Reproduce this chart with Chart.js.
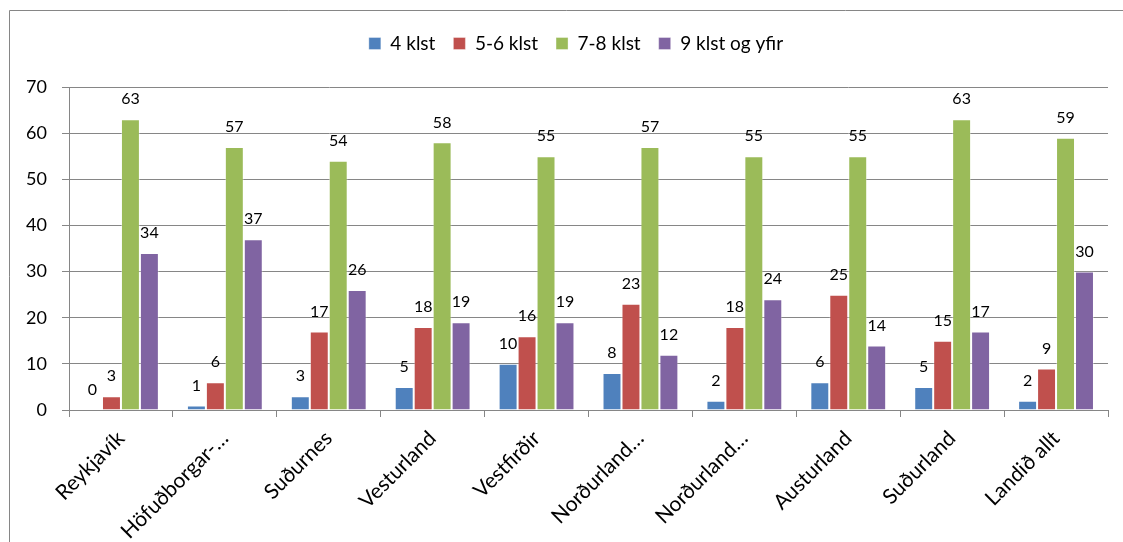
<!DOCTYPE html>
<html>
<head>
<meta charset="utf-8">
<script src="https://cdn.jsdelivr.net/npm/chart.js@4.4.1/dist/chart.umd.min.js"></script>
<style>
html,body{margin:0;padding:0;background:#fff;}
#wrap{position:absolute;left:0;top:0;width:1123px;height:542px;}
</style>
</head>
<body>
<div id="wrap"><canvas id="c" width="1123" height="542"></canvas></div>
<script>
const categories = ['Reykjavík','Höfuðborgar-…','Suðurnes','Vesturland','Vestfirðir','Norðurland…','Norðurland…','Austurland','Suðurland','Landið allt'];
const seriesNames = ['4 klst','5-6 klst','7-8 klst','9 klst og yfir'];
const s4 = [0,1,3,5,10,8,2,6,5,2];
const s56 = [3,6,17,18,16,23,18,25,15,9];
const s78 = [63,57,54,58,55,57,55,55,63,59];
const s9 = [34,37,26,19,19,12,24,14,17,30];
const yTicks = [0,10,20,30,40,50,60,70];
const colors = ['#4F81BD','#C0504D','#9BBB59','#8064A2'];

const FONT = 'Lato, "Noto Sans", sans-serif';

const framePlugin = {
  id:'frame',
  beforeDraw(chart){
    const ctx = chart.ctx;
    ctx.save();
    ctx.strokeStyle = '#868686';
    ctx.lineWidth = 1;
    ctx.beginPath();
    ctx.moveTo(9.5, 2000);
    ctx.lineTo(9.5, 10.5);
    ctx.lineTo(2000, 10.5);
    ctx.stroke();
    ctx.restore();
  }
};

const legendTweak = {
  id:'legendTweak',
  beforeLayout(chart){
    const lg = chart.legend;
    if (lg && !lg._patched){
      const f = lg.fit;
      lg.fit = function(){ f.apply(this, arguments); this.height += 24; };
      lg._patched = true;
    }
  },
  afterLayout(chart){
    const lg = chart.legend;
    if (lg){ lg.left += 22; lg.right += 22; }
  }
};

const valueLabels = {
  id:'valueLabels',
  afterDatasetsDraw(chart){
    const ctx = chart.ctx;
    ctx.save();
    ctx.font = '16px ' + FONT;
    ctx.fillStyle = '#000';
    ctx.textAlign = 'center';
    ctx.textBaseline = 'middle';
    chart.data.datasets.forEach((ds, i) => {
      const meta = chart.getDatasetMeta(i);
      meta.data.forEach((el, j) => {
        ctx.fillText(String(ds.data[j]), el.x, el.y - 20);
      });
    });
    ctx.restore();
  }
};

new Chart(document.getElementById('c'), {
  type:'bar',
  data:{
    labels: categories,
    datasets: [s4, s56, s78, s9].map((d, i) => ({
      label: seriesNames[i],
      data: d,
      backgroundColor: colors[i],
      borderColor: 'rgba(255,255,255,0.35)',
      borderWidth: 1,
      categoryPercentage: 0.73,
      barPercentage: 1.0
    }))
  },
  options:{
    responsive:false,
    animation:false,
    devicePixelRatio:1,
    layout:{padding:{left:0, right:15, top:16, bottom:0}},
    plugins:{
      legend:{
        position:'top',
        labels:{
          font:{family:FONT, size:19},
          color:'#000',
          boxWidth:12,
          boxHeight:12,
          padding:18
        }
      },
      tooltip:{enabled:false}
    },
    scales:{
      x:{
        grid:{display:true, drawOnChartArea:false, drawTicks:true, tickLength:7, color:'#868686', offset:true},
        border:{display:true, color:'#868686', width:1},
        ticks:{
          font:{family:FONT, size:21},
          color:'#000',
          minRotation:45, maxRotation:45,
          autoSkip:false,
          padding:9
        },
        afterFit(scale){ scale.height = 132; }
      },
      y:{
        min:0, max:70,
        afterBuildTicks(scale){ scale.ticks = yTicks.map(v => ({value:v})); },
        grid:{color:'#868686', tickLength:7, drawTicks:true},
        border:{display:true, color:'#868686', width:1},
        ticks:{
          font:{family:FONT, size:18},
          color:'#000',
          padding:15
        },
        afterFit(scale){ scale.width = 69; }
      }
    }
  },
  plugins:[framePlugin, legendTweak, valueLabels]
});
</script>
</body>
</html>
